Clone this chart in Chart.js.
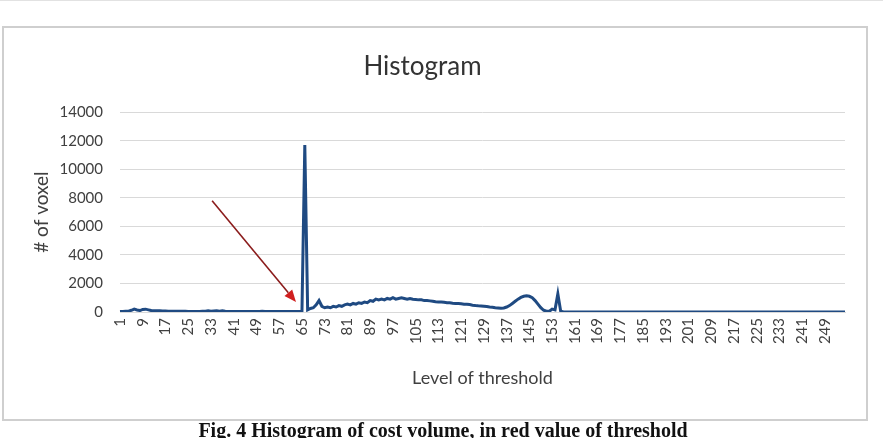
<!DOCTYPE html>
<html>
<head>
<meta charset="utf-8">
<script src="https://cdn.jsdelivr.net/npm/chart.js@4.4.1/dist/chart.umd.min.js"></script>
<style>
  html, body { margin: 0; padding: 0; background: #fff; }
  body { width: 883px; height: 438px; position: relative; overflow: hidden; }
  #topline { position: absolute; left: 0; top: 0; width: 883px; height: 1px; background: #e2e2e2; }
  #frame { position: absolute; left: 2px; top: 26px; width: 862px; height: 391px; border: 2px solid #cfcfcf; background: #fff; }
  #wrap { position: absolute; left: 0; top: 0; width: 883px; height: 438px; }
  #caption { position: absolute; left: 0; top: 420px; width: 886px; text-align: center;
    font: bold 20px "Liberation Serif", "Times New Roman", serif; line-height: 20px; color: #111; white-space: nowrap; }
</style>
</head>
<body>
<div id="topline"></div>
<div id="frame"></div>
<div id="wrap"><canvas id="myChart" width="883" height="438"></canvas></div>
<div id="caption">Fig. 4 Histogram of cost volume, in red value of threshold</div>
<script>
// threshold levels 1..256
var levels = Array.from({length: 256}, function (_, i) { return String(i + 1); });

// voxel counts per level
var voxels = [
  30, 40, 50, 60, 120, 200, 140, 100, 180, 200,
  150, 100, 90, 80, 80, 70, 70, 60, 60, 60,
  50, 50, 50, 50, 40, 40, 40, 40, 40, 50,
  60, 80, 50, 70, 90, 60, 80, 50, 40, 40,
  30, 30, 30, 30, 30, 30, 30, 30, 30, 40,
  60, 40, 30, 30, 30, 30, 30, 30, 30, 30,
  30, 30, 30, 40, 60, 11700, 150,
  250, 300, 500, 800, 400, 300, 350, 300, 400, 350, 450, 400, 500,
  550, 500, 600, 550, 650, 600, 700, 650, 800, 750,
  900, 850, 900, 850, 950, 900, 1000, 900, 950, 1000,
  950, 900, 950, 900, 880, 850, 850, 800, 800, 780,
  750, 720, 700, 700, 680, 650, 650, 620, 600, 600,
  580, 550, 550, 520, 480, 450, 430, 420, 400, 380,
  350, 330, 300, 280, 260, 280, 350, 450, 600, 750,
  900, 1020, 1100, 1130, 1100, 1000, 800, 550, 300, 120,
  50, 50, 200, 150, 1270, 60,
  0, 0, 0, 0, 0, 0, 0, 0, 0, 0,
  0, 0, 0, 0, 0, 0, 0, 0, 0, 0,
  0, 0, 0, 0, 0, 0, 0, 0, 0, 0,
  0, 0, 0, 0, 0, 0, 0, 0, 0, 0,
  0, 0, 0, 0, 0, 0, 0, 0, 0, 0,
  0, 0, 0, 0, 0, 0, 0, 0, 0, 0,
  0, 0, 0, 0, 0, 0, 0, 0, 0, 0,
  0, 0, 0, 0, 0, 0, 0, 0, 0, 0,
  0, 0, 0, 0, 0, 0, 0, 0, 0, 0,
  0, 0, 0, 0, 0, 0, 0, 0, 0, 0
];

var yTicks = [0, 2000, 4000, 6000, 8000, 10000, 12000, 14000];

// red arrow pointing at the threshold (category index, value)
var arrowFrom = [32.4, 7800];
var arrowTo = [61.9, 700];

var FONT = 'Lato, "Open Sans", sans-serif';
Chart.defaults.font.family = FONT;
Chart.defaults.color = '#404040';

var arrowPlugin = {
  id: 'arrow',
  afterDatasetsDraw: function (chart) {
    var c = chart.ctx, sx = chart.scales.x, sy = chart.scales.y;
    var x1 = sx.getPixelForValue(arrowFrom[0]), y1 = sy.getPixelForValue(arrowFrom[1]);
    var x2 = sx.getPixelForValue(arrowTo[0]), y2 = sy.getPixelForValue(arrowTo[1]);
    var a = Math.atan2(y2 - y1, x2 - x1);
    var len = 12, half = 5;
    var bx = x2 - len * Math.cos(a), by = y2 - len * Math.sin(a);
    c.save();
    c.strokeStyle = '#8b1c1c';
    c.lineWidth = 1.6;
    c.beginPath();
    c.moveTo(x1, y1);
    c.lineTo(bx, by);
    c.stroke();
    c.fillStyle = '#d01f1f';
    c.beginPath();
    c.moveTo(x2, y2);
    c.lineTo(bx + half * Math.sin(a), by - half * Math.cos(a));
    c.lineTo(bx - half * Math.sin(a), by + half * Math.cos(a));
    c.closePath();
    c.fill();
    c.restore();
  }
};

var ctx = document.getElementById('myChart').getContext('2d');
var myChart = new Chart(ctx, {
  type: 'line',
  data: {
    labels: levels,
    datasets: [{
      data: voxels,
      borderColor: '#1f4a82',
      borderWidth: 3,
      pointRadius: 0,
      tension: 0,
      fill: false
    }]
  },
  options: {
    responsive: false,
    animation: false,
    layout: { padding: { left: 0, right: 38, top: 51, bottom: 0 } },
    plugins: {
      legend: { display: false },
      tooltip: { enabled: false },
      title: {
        display: true,
        text: 'Histogram',
        color: '#333',
        font: { size: 26, weight: 'normal' },
        padding: { top: 0, bottom: 30 }
      }
    },
    scales: {
      x: {
        offset: false,
        grid: { display: false, drawTicks: false },
        border: { display: true, color: '#d9d9d9' },
        ticks: {
          autoSkip: false,
          minRotation: 90,
          maxRotation: 90,
          padding: 6,
          color: '#404040',
          font: { size: 15 },
          callback: function (v, i) { return i % 8 === 0 ? levels[i] : null; }
        },
        title: {
          display: true,
          text: 'Level of threshold',
          color: '#404040',
          font: { size: 18 },
          padding: { top: 49, bottom: 49 }
        },
        afterFit: function (s) { s.height = 126; }
      },
      y: {
        min: 0,
        max: 14000,
        afterBuildTicks: function (s) { s.ticks = yTicks.map(function (v) { return { value: v }; }); },
        grid: { color: '#d9d9d9', drawTicks: false },
        border: { display: false },
        ticks: {
          padding: 17,
          color: '#404040',
          font: { size: 15 },
          callback: function (v) { return String(v); }
        },
        title: {
          display: true,
          text: '# of voxel',
          color: '#404040',
          font: { size: 19 },
          padding: { top: 30.6, bottom: 30.6 }
        },
        afterFit: function (s) { s.width = 120; }
      }
    }
  },
  plugins: [arrowPlugin]
});
</script>
</body>
</html>
